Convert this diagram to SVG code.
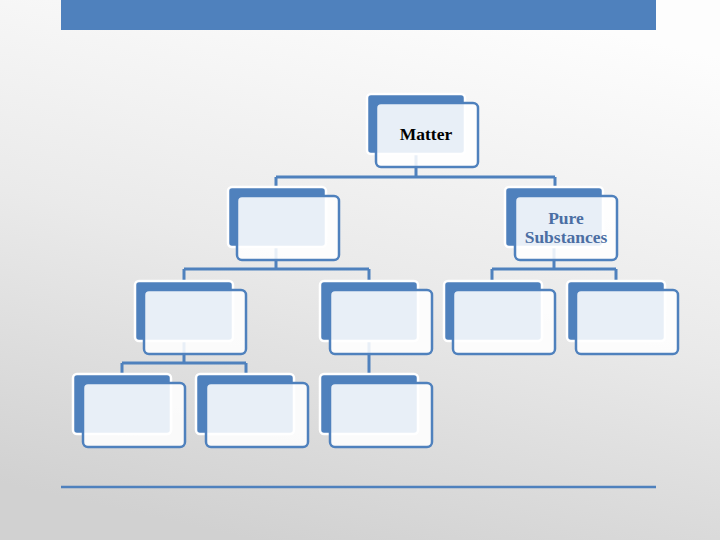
<svg xmlns="http://www.w3.org/2000/svg" width="720" height="540" viewBox="0 0 720 540">
  <defs>
    <linearGradient id="bg" x1="0.65" y1="0" x2="0.35" y2="1">
      <stop offset="0" stop-color="#fdfdfd"/>
      <stop offset="0.5" stop-color="#eaeaea"/>
      <stop offset="1" stop-color="#d1d1d1"/>
    </linearGradient>
    <style>
      .back { fill: #4f81bd; stroke: #ffffff; stroke-width: 2.5; }
      .front { fill: #ffffff; fill-opacity: 0.87; stroke: #4f81bd; stroke-width: 2.5; }
      .conn { fill: none; stroke: #4f81bd; stroke-width: 3; }
      .lbl { font-family: "Liberation Serif", "Times New Roman", serif; font-weight: bold; font-size: 17.5px; text-anchor: middle; }
    </style>
  </defs>
  <rect x="0" y="0" width="720" height="540" fill="url(#bg)"/>
  <rect x="61" y="0" width="595" height="30" fill="#4f81bd"/>
  <line x1="61" y1="487" x2="656" y2="487" stroke="#4f81bd" stroke-width="2.7"/>

  <g id="connectors">
    <path class="conn" d="M416,124 V177 M276,177 H555 M276,177 V217 M555,177 V217"/>
    <path class="conn" d="M276,217 V269 M184,269 H369 M184,269 V290 M369,269 V290"/>
    <path class="conn" d="M554,217 V269 M492,269 H616 M492,269 V290 M616,269 V290"/>
    <path class="conn" d="M184,311 V363 M122,363 H246 M122,363 V383 M246,363 V383"/>
    <path class="conn" d="M369,311 V383"/>
  </g>

  <g id="matter">
    <rect class="back" x="367" y="94" width="98" height="60" rx="4"/>
    <rect class="front" x="376" y="103" width="102" height="64" rx="5"/>
    <text class="lbl" x="426" y="140" fill="#000000">Matter</text>
  </g>
  <g id="level2-left">
    <rect class="back" x="228" y="187" width="98" height="60" rx="4"/>
    <rect class="front" x="237" y="196" width="102" height="64" rx="5"/>
  </g>
  <g id="pure-substances">
    <rect class="back" x="505" y="187" width="98" height="60" rx="4"/>
    <rect class="front" x="515" y="196" width="102" height="64" rx="5"/>
    <text class="lbl" x="566" y="224" fill="#4b6ea3">Pure</text>
    <text class="lbl" x="566" y="243" fill="#4b6ea3">Substances</text>
  </g>
  <g id="level3-a">
    <rect class="back" x="135" y="281" width="98" height="60" rx="4"/>
    <rect class="front" x="144" y="290" width="102" height="64" rx="5"/>
  </g>
  <g id="level3-b">
    <rect class="back" x="320" y="281" width="98" height="60" rx="4"/>
    <rect class="front" x="330" y="290" width="102" height="64" rx="5"/>
  </g>
  <g id="level3-c">
    <rect class="back" x="444" y="281" width="98" height="60" rx="4"/>
    <rect class="front" x="453" y="290" width="102" height="64" rx="5"/>
  </g>
  <g id="level3-d">
    <rect class="back" x="567" y="281" width="98" height="60" rx="4"/>
    <rect class="front" x="576" y="290" width="102" height="64" rx="5"/>
  </g>
  <g id="level4-a">
    <rect class="back" x="73" y="374" width="98" height="60" rx="4"/>
    <rect class="front" x="83" y="383" width="102" height="64" rx="5"/>
  </g>
  <g id="level4-b">
    <rect class="back" x="196" y="374" width="98" height="60" rx="4"/>
    <rect class="front" x="206" y="383" width="102" height="64" rx="5"/>
  </g>
  <g id="level4-c">
    <rect class="back" x="320" y="374" width="98" height="60" rx="4"/>
    <rect class="front" x="330" y="383" width="102" height="64" rx="5"/>
  </g>
</svg>
